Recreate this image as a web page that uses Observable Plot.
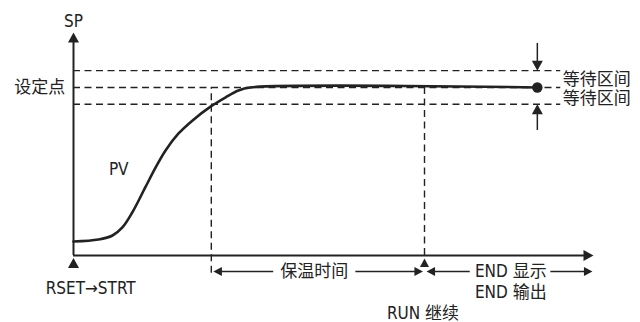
<!DOCTYPE html>
<html>
<head>
<meta charset="utf-8">
<script src="https://cdn.jsdelivr.net/npm/d3@7"></script>
<script src="https://cdn.jsdelivr.net/npm/@observablehq/plot@0.6"></script>
<style>
  html, body { margin: 0; padding: 0; background: #fff; }
  #chart svg { display: block; }
</style>
</head>
<body>
<div id="chart"></div>
<script>
// ---- data (abstract units: time 0..100, temperature with SP = 100) ----
const pvTime  = [0, 4.8, 7.5, 9.4, 11.3, 13.8, 15.8, 17.7, 20.2, 22.9, 26.7, 29.2, 31.7, 34.0, 89.2];
const pvValue = [8.3, 9.5, 11.9, 16.7, 25.6, 40.5, 52.4, 62.5, 72.6, 80.4, 89.3, 94.0, 98.2, 100, 100];
const setPoint = 100;
const waitBand = 10;
const bandLevels = [setPoint - waitBand, setPoint, setPoint + waitBand];
const soakStart = 26.5;   // 保温时间 start
const runTime = 67.5;     // RUN 继续
const endMark = 89.2;     // wait-band marker
const xMax = 100;
const yMax = 132.7;
const axisLabels = ["SP", "设定点", "PV"];
const bandLabels = ["等待区间", "等待区间"];
const bottomLabels = ["RSET→STRT", "保温时间", "END 显示", "END 输出", "RUN 继续"];

const pv = pvTime.map((t, i) => ({t, v: pvValue[i]}));

const INK = "#222";
const FONT = "'Liberation Sans Narrow', 'DejaVu Sans Condensed', 'Noto Sans CJK SC', sans-serif";

// arrowhead symbol (fixed size) with its tip at the anchor point, pointing up
const makeArrow = (len, halfW) => ({
  draw(ctx) {
    ctx.moveTo(0, 0);
    ctx.lineTo(-halfW, len);
    ctx.lineTo(halfW, len);
    ctx.closePath();
  }
});
const bigArrow = makeArrow(10, 5.5);
const smallArrow = makeArrow(8.5, 4.5);

const rowY = -9.5;
const head = (x, y, rotate, sym = smallArrow) =>
  Plot.dot([{x, y}], {x: "x", y: "y", symbol: sym, r: 5, rotate, fill: INK, stroke: "none"});
const seg = (x1, x2, y) =>
  Plot.ruleY([y], {x1, x2, stroke: INK, strokeWidth: 1.5});

const chart = Plot.plot({
  width: 640,
  height: 322,
  marginLeft: 73,
  marginRight: 47,
  marginTop: 32,
  marginBottom: 67,
  x: {domain: [0, xMax], axis: null},
  y: {domain: [0, yMax], axis: null},
  style: {fontFamily: FONT, fontSize: "17px", color: INK, background: "#fff", overflow: "visible"},
  marks: [
    // wait-band dashed lines
    Plot.ruleY(bandLevels, {x1: 0, x2: 93.7, stroke: INK, strokeWidth: 1.4, strokeDasharray: "7,4.5"}),
    // vertical dashed markers
    Plot.ruleX([soakStart], {y1: -10.5, y2: setPoint, stroke: INK, strokeWidth: 1.4, strokeDasharray: "7,4.5"}),
    Plot.ruleX([runTime], {y1: 0, y2: setPoint, stroke: INK, strokeWidth: 1.4, strokeDasharray: "7,4.5"}),
    // axes
    Plot.ruleY([0], {x1: 0, x2: xMax - 1, stroke: INK, strokeWidth: 2}),
    Plot.ruleX([0], {y1: 0, y2: yMax - 3, stroke: INK, strokeWidth: 2}),
    head(xMax, 0, 90, bigArrow),
    head(0, yMax, 0, bigArrow),
    head(0, -1.5, 0, bigArrow),
    // PV curve
    Plot.line(pv, {x: "t", y: "v", curve: "catmull-rom", stroke: INK, strokeWidth: 2.6}),
    // wait band indicator
    Plot.ruleX([endMark], {y1: setPoint + waitBand + 4, y2: 126.2, stroke: INK, strokeWidth: 1.5}),
    Plot.ruleX([endMark], {y1: 74.4, y2: setPoint - waitBand - 4, stroke: INK, strokeWidth: 1.5}),
    head(endMark, setPoint + waitBand, 180, bigArrow),
    head(endMark, setPoint - waitBand, 0, bigArrow),
    Plot.dot([{x: endMark, y: setPoint}], {x: "x", y: "y", r: 5.2, fill: INK, stroke: "none"}),
    // bottom timing arrows
    head(soakStart + 0.4, rowY, -90),
    seg(soakStart + 1.5, 38.5, rowY),
    seg(54.3, runTime - 1, rowY),
    head(runTime - 0.3, rowY, 90),
    head(runTime + 0.4, rowY, -90),
    seg(runTime + 1.5, 76.3, rowY),
    seg(91.8, xMax - 1.5, rowY),
    head(xMax - 0.2, rowY, 90),
    head(runTime, -1.8, 0),
    // labels
    Plot.text([axisLabels[0]], {x: 0, y: 139.3, text: d => d, fill: INK}),
    Plot.text([axisLabels[1]], {x: -1.6, y: setPoint, text: d => d, textAnchor: "end", fill: INK}),
    Plot.text([axisLabels[2]], {x: 8.7, y: 51.2, text: d => d, fill: INK}),
    Plot.text(bandLabels, {x: 94.1, y: [104.8, 93.5], text: d => d, textAnchor: "start", fill: INK}),
    Plot.text([bottomLabels[0]], {x: 3.3, y: -19.6, text: d => d, fill: INK}),
    Plot.text([bottomLabels[1]], {x: 46.3, y: rowY, text: d => d, fill: INK}),
    Plot.text([bottomLabels[2]], {x: 84.1, y: rowY, text: d => d, fill: INK}),
    Plot.text([bottomLabels[3]], {x: 84.1, y: -22, text: d => d, fill: INK}),
    Plot.text([bottomLabels[4]], {x: runTime - 0.3, y: -34.3, text: d => d, fill: INK})
  ]
});
document.getElementById("chart").append(chart);
</script>
</body>
</html>
